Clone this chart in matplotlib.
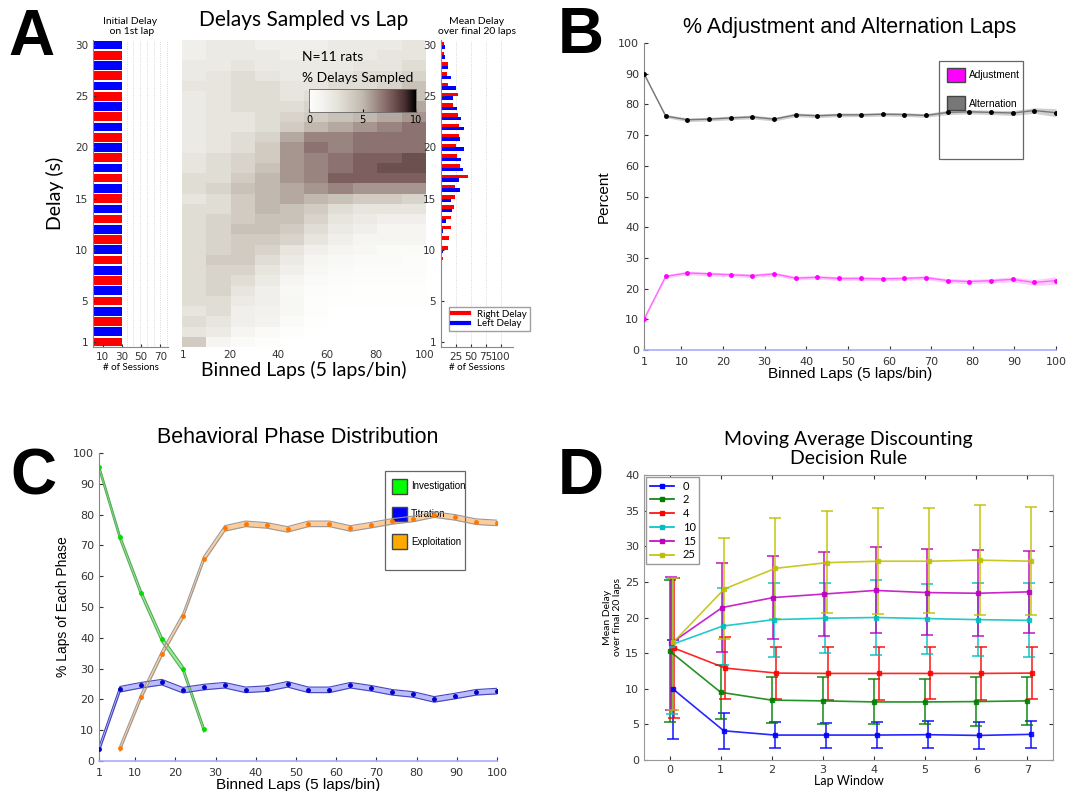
import numpy as np
import matplotlib
matplotlib.use('Agg')
import matplotlib.pyplot as plt
from matplotlib.colors import LinearSegmentedColormap
from matplotlib.patches import Patch, Rectangle
from matplotlib.lines import Line2D

W, H = 1067, 791

def box(l, t, r, b):
    # pixel box -> figure fraction
    return [l / W, 1 - b / H, (r - l) / W, (b - t) / H]

# ---- panel A data ----
delays = np.arange(1, 31)
initial_sessions = [30] * 30
initial_side = "RLRLRLRLRLRLRLRLRLRLRLRLRLRLRL"   # delay 1 .. 30
right_final = [0, 0, 0, 0, 0, 1, 1.5, 1, 3, 11, 13, 16, 17, 21, 23, 23, 45, 32, 27, 25,
               30, 30, 28, 20, 28, 12, 10, 12, 5, 5]
left_final = [1.5, 0, 0, 0, 0, 0, 0, 0, 0, 3, 1, 3, 8, 19, 17, 32, 30, 37, 33, 38,
              32, 38, 33, 27, 20, 25, 17, 12, 7, 7]
# % delays sampled, rows = delay 1..30, cols = 10-lap blocks of binned laps 1..100
sampled = [
    [4, 1, 0.5, 0.2, 0, 0, 0, 0, 0, 0],
    [2.5, 2, 1, 0.5, 0.2, 0, 0, 0, 0, 0],
    [3, 2.5, 1.5, 1.2, 0.5, 0.1, 0, 0, 0, 0],
    [2.5, 3, 1.5, 1.3, 0.8, 0.2, 0, 0, 0, 0],
    [3, 3, 2, 1.5, 0.8, 0.2, 0.1, 0.1, 0.1, 0.1],
    [3, 3.5, 2.5, 1.5, 0.7, 0.3, 0.2, 0.1, 0.1, 0.1],
    [3, 3.5, 3, 2, 1, 0.5, 0.3, 0.2, 0.2, 0.2],
    [3, 3.5, 3.5, 2.5, 1.5, 0.8, 0.5, 0.3, 0.3, 0.3],
    [3, 4, 4, 3, 2, 1, 0.7, 0.5, 0.5, 0.3],
    [3, 3.5, 4, 3.5, 2.5, 1.5, 1, 0.8, 0.5, 0.5],
    [3, 3.5, 4, 4, 3.5, 2.5, 1.5, 1, 1, 1],
    [3, 3.5, 4.5, 4.5, 4, 3, 2, 1.5, 1, 1],
    [3, 3.5, 4, 4.5, 4.5, 3.5, 2.5, 2, 1.5, 1.5],
    [3, 3, 4, 5, 4.5, 4, 3, 2.5, 2.5, 2.5],
    [2.5, 3, 4, 5, 5.5, 5, 4.5, 4, 4, 3.5],
    [3, 3.5, 4.5, 5, 5.5, 6, 6.5, 6, 6, 6],
    [3, 3, 4, 5, 6, 6.5, 7.5, 7.5, 7.5, 7.5],
    [2.5, 3, 3.5, 4.5, 6, 6.5, 7, 7.5, 8, 8],
    [2.5, 3, 3.5, 4, 6, 6.5, 7, 7.5, 7.5, 8],
    [2, 2.5, 3, 4, 6, 7, 6.5, 7, 7, 7],
    [2, 2.5, 3, 3.5, 5.5, 6.5, 6.5, 7, 7, 7],
    [2, 2.5, 2.5, 3, 4, 5, 5.5, 6, 6.5, 7],
    [2, 2.5, 2.5, 3, 3.5, 4, 4.5, 5, 5.5, 6],
    [2, 2.5, 3, 3, 3, 3.5, 4, 4.5, 5, 5.5],
    [2, 2.5, 3, 3, 2.5, 3, 3, 3.5, 4, 4.5],
    [2.5, 2.5, 3, 3, 2.5, 2.5, 3, 3, 3.5, 4.5],
    [2, 2.5, 3, 2.5, 2, 2, 2.5, 3, 3, 3.5],
    [2, 2, 2.5, 2, 2, 2, 2, 2.5, 2.5, 3],
    [1.5, 2, 2, 2, 1.5, 2, 2, 2, 2.5, 2.5],
    [1.5, 2, 2, 1.5, 1.5, 1.5, 2, 2, 2, 2.5],
]

# ---- panel B data ----
n_bins = 20
alternation = [90, 76.2, 75.0, 75.2, 75.6, 75.9, 75.2, 76.6, 76.3, 76.6,
               76.6, 76.8, 76.7, 76.4, 77.4, 77.6, 77.4, 77.2, 78.0, 77.3]
alternation_err = [0.3, 0.5, 0.6, 0.6, 0.6, 0.6, 0.6, 0.6, 0.6, 0.6,
                   0.6, 0.6, 0.6, 0.6, 0.7, 0.7, 0.7, 0.8, 0.9, 1.3]
adjustment = [10, 24.0, 25.1, 24.8, 24.5, 24.2, 24.8, 23.4, 23.7, 23.3,
              23.3, 23.2, 23.3, 23.6, 22.6, 22.3, 22.6, 23.0, 22.0, 22.6]
adjustment_err = [0.3, 0.5, 0.6, 0.6, 0.6, 0.6, 0.6, 0.6, 0.6, 0.6,
                  0.6, 0.6, 0.6, 0.6, 0.7, 0.7, 0.7, 0.8, 0.9, 1.3]

# ---- panel C data ----
investigation = [95.4, 72.6, 54.7, 39.5, 30.0, 10.3]
titration = [3.8, 23.3, 24.6, 25.6, 23.0, 24.0, 24.6, 23.1, 23.5, 24.9,
             23.1, 23.1, 24.6, 23.6, 22.3, 21.6, 20.0, 21.1, 22.3, 22.7]
exploitation = [4.1, 20.8, 34.9, 47.0, 65.6, 75.5, 77.0, 76.5, 75.2, 77.0,
                77.0, 75.5, 76.6, 77.8, 78.6, 80.0, 79.1, 77.7, 77.3]
phase_err = 0.9

# ---- panel D data ----
lap_window = np.arange(8)
rule_labels = ['0', '2', '4', '10', '15', '25']
rule_colors = ['#0000ff', '#008000', '#ff0000', '#00bfbf', '#bf00bf', '#bfbf00']
rule_offset = [0.06, 0.0, 0.09, 0.04, 0.03, 0.07]
rule_mean = [
    [10.0, 4.1, 3.5, 3.5, 3.5, 3.55, 3.45, 3.6],
    [15.3, 9.5, 8.4, 8.3, 8.15, 8.15, 8.2, 8.3],
    [15.7, 12.9, 12.2, 12.15, 12.15, 12.15, 12.15, 12.2],
    [16.2, 18.8, 19.7, 19.9, 20.0, 19.85, 19.7, 19.6],
    [16.4, 21.4, 22.8, 23.3, 23.8, 23.5, 23.4, 23.6],
    [16.5, 24.0, 26.9, 27.7, 27.9, 27.9, 28.05, 27.9],
]
rule_low = [
    [3.0, 1.5, 1.7, 1.7, 1.7, 1.7, 1.6, 1.7],
    [5.4, 5.8, 5.2, 5.0, 5.0, 5.0, 4.8, 4.9],
    [5.9, 8.5, 8.5, 8.4, 8.4, 8.5, 8.4, 8.6],
    [6.5, 13.4, 14.4, 15.0, 14.8, 14.9, 14.6, 14.4],
    [7.0, 15.1, 17.0, 17.4, 17.8, 17.5, 17.4, 17.8],
    [7.0, 17.0, 19.8, 20.6, 20.5, 20.6, 20.4, 20.4],
]
rule_high = [
    [16.9, 6.6, 5.4, 5.2, 5.3, 5.5, 5.3, 5.5],
    [25.3, 13.4, 11.6, 11.6, 11.3, 11.4, 11.6, 11.7],
    [25.5, 17.3, 15.9, 15.9, 15.9, 15.8, 15.8, 15.8],
    [25.6, 24.2, 24.9, 24.8, 25.2, 24.7, 24.8, 24.9],
    [25.7, 27.7, 28.6, 29.2, 29.9, 29.6, 29.5, 29.4],
    [25.5, 31.2, 34.0, 35.0, 35.4, 35.3, 35.8, 35.5],
]

plt.rcParams['xtick.direction'] = 'in'
plt.rcParams['ytick.direction'] = 'in'
myriad = 'Lato'
arial = 'Liberation Sans'

fig = plt.figure(figsize=(W / 100, H / 100), dpi=100)

# panel letters
for letter, x, y in [('A', 8, 55), ('B', 558, 53), ('C', 10, 494), ('D', 558, 494)]:
    fig.text(x / W, 1 - y / H, letter, fontsize=46, fontweight='heavy', family=arial)

# ---- A: initial delay ----
ax = fig.add_axes(box(93, 40, 168, 347))
cols = ['#ff0000' if s == 'R' else '#0000ff' for s in initial_side]
ax.barh(delays, initial_sessions, height=0.85, color=cols, edgecolor='none')
ax.set_ylim(0.5, 30.5)
ax.set_xlim(0, 78)
ax.set_xticks([10, 30, 50, 70])
ax.set_yticks([1, 5, 10, 15, 20, 25, 30])
for gx in range(35, 78, 7):
    ax.axvline(gx, color='#cccccc', lw=0.6, ls=':', zorder=0)
for s in ['top', 'right']:
    ax.spines[s].set_visible(False)
ax.spines['left'].set_color('#888888')
ax.spines['bottom'].set_color('#888888')
ax.tick_params(labelsize=7.5, length=2, colors='#333333')
ax.set_title('Initial Delay\n on 1st lap', fontsize=7.5, family=myriad, pad=4)
ax.set_xlabel('# of Sessions', fontsize=7, family=myriad, labelpad=1)
ax.set_ylabel('Delay (s)', fontsize=14, family=myriad, labelpad=8)

# ---- A: heat map ----
cmap = LinearSegmentedColormap.from_list('delay', [
    (0.0, (1, 1, 1)), (0.25, (0.91, 0.90, 0.87)), (0.5, (0.76, 0.73, 0.69)),
    (0.75, (0.50, 0.38, 0.38)), (0.9, (0.28, 0.18, 0.18)), (1.0, (0, 0, 0))])
ax = fig.add_axes(box(182, 40, 426, 347))
ax.imshow(np.array(sampled), origin='lower', aspect='auto', cmap=cmap, vmin=0, vmax=10,
          extent=(0.5, 100.5, 0.5, 30.5), interpolation='nearest')
ax.set_xticks([1, 20, 40, 60, 80, 100])
ax.set_yticks([])
for s in ax.spines.values():
    s.set_visible(False)
ax.tick_params(labelsize=7.5, length=0, colors='#333333', pad=2)
ax.set_title('Delays Sampled vs Lap', fontsize=15, family=myriad, pad=10)
ax.set_xlabel('Binned Laps (5 laps/bin)', fontsize=14, family=myriad, labelpad=1)
ax.text(0.49, 0.945, 'N=11 rats', transform=ax.transAxes, fontsize=10, family=myriad, va='center')
ax.text(0.49, 0.877, '% Delays Sampled', transform=ax.transAxes, fontsize=10, family=myriad,
        va='center')

cax = fig.add_axes(box(309, 89, 416, 112))
cax.imshow(np.linspace(0, 10, 256)[None, :], aspect='auto', cmap=cmap, extent=(0, 10, 0, 1))
cax.set_yticks([])
cax.set_xticks([0, 5, 10])
cax.tick_params(labelsize=7, length=2, pad=2)
for s in cax.spines.values():
    s.set_color('#666666')
    s.set_linewidth(0.6)

# ---- A: mean delay over final laps ----
ax = fig.add_axes(box(441, 40, 513, 347))
ax.barh(delays + 0.17, right_final, height=0.34, color='#ff0000', label='Right Delay')
ax.barh(delays - 0.17, left_final, height=0.34, color='#0000ff', label='Left Delay')
ax.set_ylim(0.5, 30.5)
ax.set_xlim(0, 120)
ax.set_xticks([25, 50, 75, 100])
ax.set_yticks([1, 5, 10, 15, 20, 25, 30])
for gx in [25, 50, 75, 100]:
    ax.axvline(gx, color='#cccccc', lw=0.6, ls=':', zorder=0)
for s in ['top', 'right']:
    ax.spines[s].set_visible(False)
ax.spines['left'].set_color('#888888')
ax.spines['bottom'].set_color('#888888')
ax.tick_params(labelsize=7.5, length=2, colors='#333333')
ax.set_title('Mean Delay\nover final 20 laps', fontsize=7.5, family=myriad, pad=4)
ax.set_xlabel('# of Sessions', fontsize=7, family=myriad, labelpad=1)
leg = ax.legend(handles=[Line2D([], [], color='#ff0000', lw=3), Line2D([], [], color='#0000ff', lw=3)],
                labels=['Right Delay', 'Left Delay'], loc='lower right', bbox_to_anchor=(1.3, 0.035),
                prop={'family': myriad, 'size': 7}, handlelength=1.8, borderpad=0.3,
                labelspacing=0.1, fancybox=False, edgecolor='#888888')


def style_line_axes(ax):
    for s in ['top', 'right']:
        ax.spines[s].set_visible(False)
    ax.spines['left'].set_color('#888888')
    ax.spines['bottom'].set_color('#aaaaff')
    ax.spines['bottom'].set_linewidth(1.2)
    ax.set_xlim(1, 100)
    ax.set_ylim(0, 100)
    ax.set_xticks([1, 10, 20, 30, 40, 50, 60, 70, 80, 90, 100])
    ax.set_yticks(range(0, 101, 10))
    ax.tick_params(labelsize=8, length=3, colors='#333333')
    ax.tick_params(axis='x', pad=5)


def legend_box(ax, x0, y0, w, h):
    ax.add_patch(Rectangle((x0, y0), w, h, transform=ax.transAxes, fill=False,
                           ec='#666666', lw=0.9, clip_on=False, zorder=1))


laps = np.linspace(1, 100, n_bins)

# ---- B ----
ax = fig.add_axes(box(644, 43, 1056, 350))
style_line_axes(ax)
alt = np.array(alternation)
aerr = np.array(alternation_err)
adj = np.array(adjustment)
jerr = np.array(adjustment_err)
ax.fill_between(laps, alt - aerr, alt + aerr, color='#bbbbbb', alpha=0.7, lw=0)
ax.plot(laps, alt, color='#777777', lw=1, marker='.', ms=5, mfc='k', mec='k', zorder=3)
ax.fill_between(laps, adj - jerr, adj + jerr, color='#ffaaff', alpha=0.6, lw=0)
ax.plot(laps, adj, color='#ff66ff', lw=1, marker='.', ms=5, mfc='#ff00ff', mec='#ff00ff', zorder=3)
ax.set_title('% Adjustment and Alternation Laps', fontsize=15.5, family=arial, pad=7)
ax.set_xlabel('Binned Laps (5 laps/bin)', fontsize=11, family=arial, labelpad=0)
ax.set_ylabel('Percent', fontsize=11, family=arial, labelpad=5)
legend_box(ax, 0.716, 0.622, 0.204, 0.319)
leg = ax.legend(handles=[Patch(fc='#ff00ff', ec='#444444'), Patch(fc='#777777', ec='#444444')],
                labels=['Adjustment', 'Alternation'], loc='upper left', bbox_to_anchor=(0.735, 0.92),
                prop={'family': arial, 'size': 7.3}, handlelength=1.8, handleheight=1.8,
                labelspacing=1.4, borderpad=0, handletextpad=0.4, frameon=False,
                borderaxespad=0)
leg.set_zorder(1)

# ---- C ----
ax = fig.add_axes(box(99, 453, 497, 761))
style_line_axes(ax)
inv = np.array(investigation)
tit = np.array(titration)
exp_ = np.array(exploitation)
x_inv = laps[:len(inv)]
x_exp = laps[n_bins - len(exp_):]
ax.fill_between(x_inv, inv - phase_err, inv + phase_err, color='#99ee99', lw=0)
ax.plot(x_inv, inv - phase_err, color='#55aa55', lw=0.8)
ax.plot(x_inv, inv + phase_err, color='#55aa55', lw=0.8)
ax.plot(x_inv, inv, ls='none', marker='.', ms=5, color='#00dd00', zorder=4)
ax.fill_between(laps, tit - phase_err, tit + phase_err, color='#bbbbff', lw=0)
ax.plot(laps, tit - phase_err, color='#4444bb', lw=0.8)
ax.plot(laps, tit + phase_err, color='#4444bb', lw=0.8)
ax.plot(laps, tit, ls='none', marker='.', ms=5, color='#0000cc', zorder=4)
ax.fill_between(x_exp, exp_ - phase_err, exp_ + phase_err, color='#ffcc99', lw=0)
ax.plot(x_exp, exp_ - phase_err, color='#999999', lw=0.8)
ax.plot(x_exp, exp_ + phase_err, color='#999999', lw=0.8)
ax.plot(x_exp, exp_, ls='none', marker='.', ms=5, color='#ff7700', zorder=4)
ax.set_title('Behavioral Phase Distribution', fontsize=15.5, family=arial, pad=7)
ax.set_xlabel('Binned Laps (5 laps/bin)', fontsize=11, family=arial, labelpad=0)
ax.set_ylabel('% Laps of Each Phase', fontsize=10, family=arial, labelpad=2)
legend_box(ax, 0.719, 0.620, 0.201, 0.322)
leg = ax.legend(handles=[Patch(fc='#00ff00', ec='#444444'), Patch(fc='#0000ff', ec='#444444'),
                         Patch(fc='#ffaa00', ec='#444444')],
                labels=['Investigation', 'Titration', 'Exploitation'], loc='upper left',
                bbox_to_anchor=(0.735, 0.915), prop={'family': arial, 'size': 7},
                handlelength=1.6, handleheight=1.9, labelspacing=1.35, borderpad=0,
                handletextpad=0.4, frameon=False, borderaxespad=0)
leg.set_zorder(1)

# ---- D ----
ax = fig.add_axes(box(644, 475, 1053, 760))
for i in range(len(rule_labels)):
    m = np.array(rule_mean[i])
    lo = m - np.array(rule_low[i])
    hi = np.array(rule_high[i]) - m
    xs = lap_window + rule_offset[i]
    ax.errorbar(xs, m, yerr=[lo, hi], color=rule_colors[i], ecolor=rule_colors[i], elinewidth=1.2,
                capsize=4, capthick=1.2, lw=1.2, marker='s', ms=2.5, alpha=0.85)
ax.set_xlim(-0.5, 7.5)
ax.set_ylim(0, 40)
ax.set_xticks(lap_window)
ax.set_yticks(range(0, 41, 5))
ax.tick_params(labelsize=8, length=3, colors='#333333', top=True, right=True)
for s in ax.spines.values():
    s.set_color('#999999')
ax.set_title('Moving Average Discounting\nDecision Rule', fontsize=14, family=myriad, pad=8,
             linespacing=1.1)
ax.set_xlabel('Lap Window', fontsize=9, family=myriad, labelpad=0)
ax.set_ylabel('Mean Delay\nover final 20 laps', fontsize=7.5, family=myriad, labelpad=2)
handles = [Line2D([], [], color=c, lw=1.2, marker='s', ms=2.5) for c in rule_colors]
ax.legend(handles=handles, labels=rule_labels, loc='upper left', prop={'family': myriad, 'size': 8},
          handlelength=2.2, labelspacing=0.25, borderpad=0.3, fancybox=False, edgecolor='#999999',
          borderaxespad=0.2, framealpha=1)

fig.savefig('out.png', dpi=100)
